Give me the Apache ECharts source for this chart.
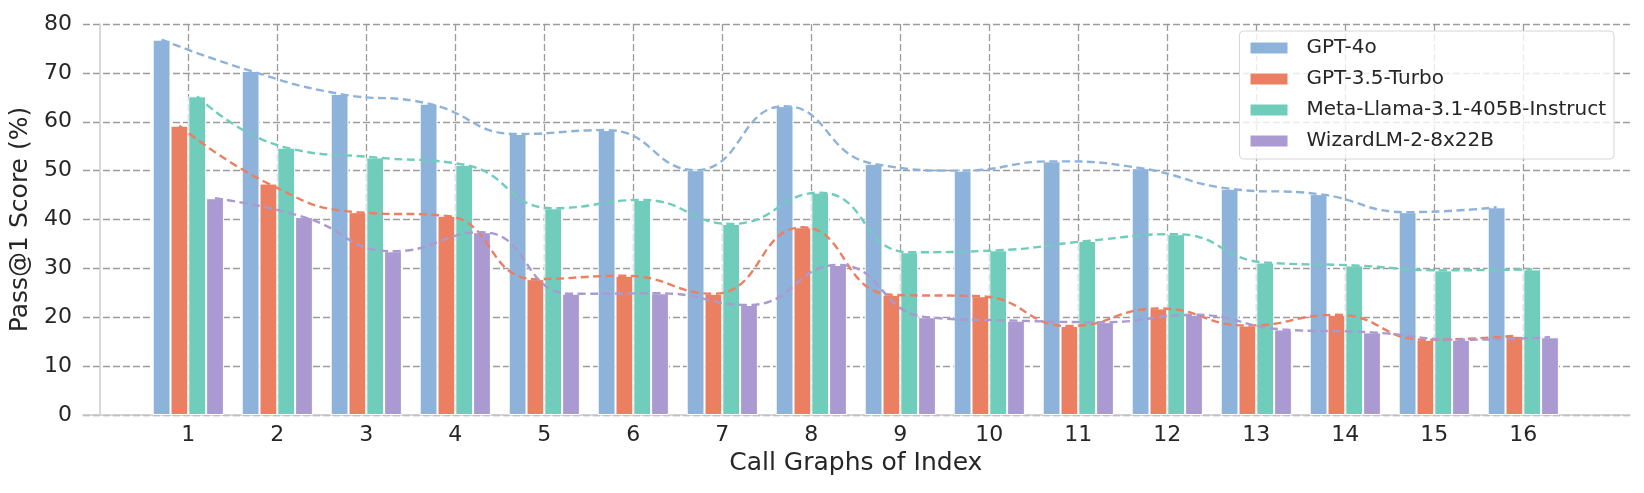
<!DOCTYPE html>
<html>
<head>
<meta charset="utf-8">
<script src="https://cdn.jsdelivr.net/npm/echarts@6/dist/echarts.min.js"></script>
<style>
html,body{margin:0;padding:0;background:#fff;}
#chart{width:1644px;height:493px;}
</style>
</head>
<body>
<div id="chart"></div>
<script>
const categories = ['1','2','3','4','5','6','7','8','9','10','11','12','13','14','15','16'];
const seriesNames = ['GPT-4o','GPT-3.5-Turbo','Meta-Llama-3.1-405B-Instruct','WizardLM-2-8x22B'];
const gpt4o  = [76.8, 70.4, 65.7, 63.7, 57.5, 58.3, 50.1, 63.2, 51.4, 50.0, 51.9, 50.5, 46.3, 45.2, 41.5, 42.5];
const gpt35  = [59.2, 47.35, 41.5, 40.75, 27.8, 28.5, 24.8, 38.4, 24.6, 24.3, 18.2, 21.8, 18.3, 20.5, 15.4, 16.2];
const llama  = [65.2, 54.7, 52.7, 51.2, 42.3, 44.0, 39.1, 45.5, 33.3, 33.7, 35.6, 37.0, 31.2, 30.6, 29.6, 29.8];
const wizard = [44.35, 40.5, 33.5, 37.4, 24.8, 24.9, 22.5, 30.7, 20.0, 19.3, 19.0, 20.5, 17.5, 16.9, 15.4, 15.9];
const yTicks = [0, 10, 20, 30, 40, 50, 60, 70, 80];

const allData = [gpt4o, gpt35, llama, wizard];
const colors = ['#8eb3da', '#eb7f62', '#70cdbc', '#ab99d2'];
const FONT = 'DejaVu Sans';
const TXT = '#262626';
const barSlot = 0.2; // bar width in category units
const offsets = [-1.5, -0.5, 0.5, 1.5].map(k => k * barSlot);

// layout (pixels)
const W = 1644;
const gridTop = 24, gridBottom = 78;
const gA = { left: 83, right: 14 };
const gB = { left: 188.3, right: 120.7 };
const unit = (W - gB.left - gB.right) / (categories.length - 1);
const xMinA = 1 - (gB.left - gA.left) / unit;
const xMaxA = categories.length + (gB.right - gA.right) / unit;

const series = [];
allData.forEach((arr, k) => {
  series.push({
    name: seriesNames[k], type: 'bar', xAxisIndex: 1, yAxisIndex: 1,
    data: arr, barWidth: 17.8, barGap: '0%', clip: false,
    itemStyle: { color: colors[k], borderColor: '#ffffff', borderWidth: 1 },
    emphasis: { disabled: true }, z: 2
  });
});
allData.forEach((arr, k) => {
  series.push({
    name: seriesNames[k], type: 'line', xAxisIndex: 0, yAxisIndex: 0,
    data: arr.map((v, i) => [i + 1 + offsets[k], v]),
    smooth: 0.5, symbol: 'none', clip: false,
    lineStyle: { color: colors[k], width: 2.4, type: [8, 4.5] },
    emphasis: { disabled: true }, z: 3
  });
});

const chart = echarts.init(document.getElementById('chart'), null, { renderer: 'canvas' });
chart.setOption({
  animation: false,
  backgroundColor: '#ffffff',
  textStyle: { fontFamily: FONT },
  grid: [
    { left: gA.left, right: gA.right, top: gridTop, bottom: gridBottom },
    { left: gB.left, right: gB.right, top: gridTop, bottom: gridBottom }
  ],
  legend: {
    data: seriesNames.map(n => ({ name: n, icon: 'rect' })),
    orient: 'vertical', right: 30, top: 31,
    itemWidth: 39, itemHeight: 13, itemGap: 11,
    padding: [7, 8, 8, 9],
    backgroundColor: 'rgba(255,255,255,0.8)',
    borderColor: '#d6d6d6', borderWidth: 1, borderRadius: 4,
    textStyle: { fontFamily: FONT, fontSize: 20, color: TXT, lineHeight: 19, padding: [0, 0, 0, 13] },
    selectedMode: false
  },
  xAxis: [
    { type: 'value', gridIndex: 0, min: xMinA, max: xMaxA,
      axisLine: { show: true, lineStyle: { color: '#cccccc', width: 1.5 } },
      axisTick: { show: false }, axisLabel: { show: false }, splitLine: { show: false } },
    { type: 'category', gridIndex: 1, data: categories, boundaryGap: false,
      axisLine: { show: false }, axisTick: { show: false },
      axisLabel: { fontFamily: FONT, fontSize: 22, color: TXT, margin: 9 },
      splitLine: { show: true, lineStyle: { color: '#9c9c9c', width: 1.3, type: [7, 3] } },
      name: 'Call Graphs of Index', nameLocation: 'middle', nameGap: 35,
      nameTextStyle: { fontFamily: FONT, fontSize: 25, color: TXT } }
  ],
  yAxis: [
    { type: 'value', gridIndex: 0, min: 0, max: 80, interval: 10,
      axisLine: { show: true, lineStyle: { color: '#cccccc', width: 1.5 } },
      axisTick: { show: false },
      axisLabel: { fontFamily: FONT, fontSize: 22, color: TXT, margin: 11,
        customValues: yTicks },
      splitLine: { show: true, lineStyle: { color: '#9c9c9c', width: 1.3, type: [7, 3] } },
      name: 'Pass@1 Score (%)', nameLocation: 'middle', nameGap: 35,
      nameTextStyle: { fontFamily: FONT, fontSize: 25, color: TXT } },
    { type: 'value', gridIndex: 1, min: 0, max: 80, show: false, splitLine: { show: false } }
  ],
  series: series
});
</script>
</body>
</html>
